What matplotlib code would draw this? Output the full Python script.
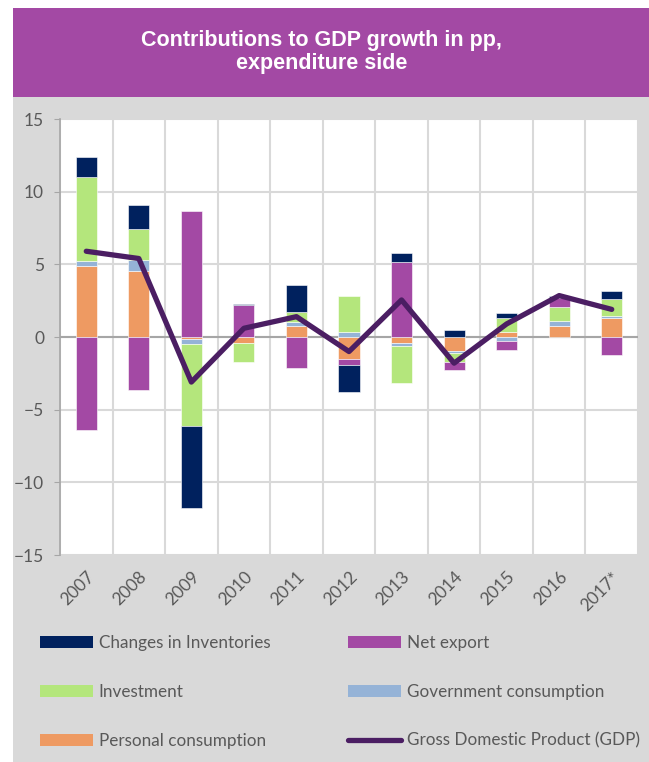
import numpy as np
import matplotlib

matplotlib.use("Agg")
import matplotlib.pyplot as plt
from matplotlib.patches import Rectangle, Patch
from matplotlib.lines import Line2D

years = ["2007", "2008", "2009", "2010", "2011", "2012", "2013", "2014", "2015", "2016", "2017*"]

# contributions in pp
personal = [4.88, 4.56, -0.15, -0.43, 0.76, -1.53, -0.39, -0.96, 0.37, 0.78, 1.33]
government = [0.36, 0.73, -0.32, 0.0, 0.29, 0.37, -0.23, -0.14, -0.27, 0.32, 0.13]
investment = [5.78, 2.13, -5.65, -1.27, 0.69, 2.45, -2.56, -0.60, 0.91, 0.94, 1.13]
net_export = [-6.39, -3.64, 8.64, 2.20, -2.11, -0.39, 5.15, -0.57, -0.63, 0.62, -1.24]
inventories = [1.37, 1.63, -5.65, 0.10, 1.81, -1.88, 0.62, 0.45, 0.39, 0.16, 0.57]
gdp = [5.9, 5.4, -3.1, 0.6, 1.4, -1.0, 2.55, -1.8, 0.9, 2.85, 1.9]

SERIES = [
    ("Personal consumption", personal, "#EE9A62"),
    ("Government consumption", government, "#95B3D7"),
    ("Investment", investment, "#B4E67C"),
    ("Net export", net_export, "#A349A4"),
    ("Changes in Inventories", inventories, "#00215E"),
]
GDP_COLOR = "#4B1E63"
TEXT_GREY = "#595959"

fig = plt.figure(figsize=(6.49, 7.62), dpi=100)
fig.patch.set_facecolor("white")

# grey panel and purple title band
fig.patches.append(Rectangle((13 / 649, 0), 1, 1 - 97 / 762, transform=fig.transFigure,
                             facecolor="#D9D9D9", edgecolor="none", zorder=-10))
fig.patches.append(Rectangle((13 / 649, 1 - 97 / 762), 1, 89 / 762, transform=fig.transFigure,
                             facecolor="#A349A4", edgecolor="none", zorder=-10))
fig.text(0.495, 1 - 52 / 762, "Contributions to GDP growth in pp,\nexpenditure side",
         ha="center", va="center", color="white", fontsize=15.5, fontweight="bold",
         family="Liberation Sans", linespacing=1.12)

ax = fig.add_axes([60 / 649, 1 - 555 / 762, 578 / 649, 436 / 762])
ax.set_facecolor("white")

x = np.arange(len(years))
pos_base = np.zeros(len(years))
neg_base = np.zeros(len(years))
for name, vals, color in SERIES:
    vals = np.array(vals)
    base = np.where(vals >= 0, pos_base, neg_base)
    ax.bar(x, vals, width=0.4, bottom=base, color=color, edgecolor="white",
           linewidth=0.4, zorder=3)
    pos_base = pos_base + np.where(vals >= 0, vals, 0)
    neg_base = neg_base + np.where(vals < 0, vals, 0)

ax.plot(x, gdp, color=GDP_COLOR, lw=3.8, solid_joinstyle="round",
        solid_capstyle="round", zorder=4)

ax.set_xlim(-0.5, len(years) - 0.5)
ax.set_ylim(-15, 15)
ax.set_yticks(range(-15, 16, 5))
ax.set_xticks(x)
ax.set_xticklabels(years, rotation=45, ha="right", rotation_mode="anchor",
                   family="Lato", fontsize=12.5, color=TEXT_GREY)
ax.set_xticks(np.arange(-0.5, len(years), 1), minor=True)
ax.tick_params(axis="x", which="major", length=0, pad=10)
ax.tick_params(axis="x", which="minor", length=0)
ax.tick_params(axis="y", length=4.5, color="#A6A6A6", labelsize=12.5, labelcolor=TEXT_GREY, pad=7)
for lab in ax.get_yticklabels():
    lab.set_family("Lato")

ax.grid(True, axis="y", color="#D9D9D9", lw=1.5, zorder=0)
ax.grid(True, axis="x", which="minor", color="#D9D9D9", lw=1.5, zorder=0)
ax.axhline(0, color="#A6A6A6", lw=1.5, zorder=2)
for side in ["top", "right", "bottom"]:
    ax.spines[side].set_visible(False)
ax.spines["left"].set_color("#A6A6A6")
ax.spines["left"].set_linewidth(1.2)

colors = {name: color for name, _, color in SERIES}
handles = [
    Patch(facecolor=colors["Changes in Inventories"], label="Changes in Inventories"),
    Patch(facecolor=colors["Investment"], label="Investment"),
    Patch(facecolor=colors["Personal consumption"], label="Personal consumption"),
    Patch(facecolor=colors["Net export"], label="Net export"),
    Patch(facecolor=colors["Government consumption"], label="Government consumption"),
    Line2D([], [], color=GDP_COLOR, lw=3.8, solid_capstyle="round",
           label="Gross Domestic Product (GDP)"),
]
leg = fig.legend(handles=handles, ncol=2, loc="upper left",
                 bbox_to_anchor=(33 / 649, 1 - 628 / 762), frameon=False,
                 prop={"family": "Lato", "size": 12.3}, labelcolor=TEXT_GREY,
                 handlelength=3.1, handleheight=0.75, handletextpad=0.35,
                 labelspacing=1.93, columnspacing=4.57, borderaxespad=0)

fig.savefig("out.png", dpi=100)
